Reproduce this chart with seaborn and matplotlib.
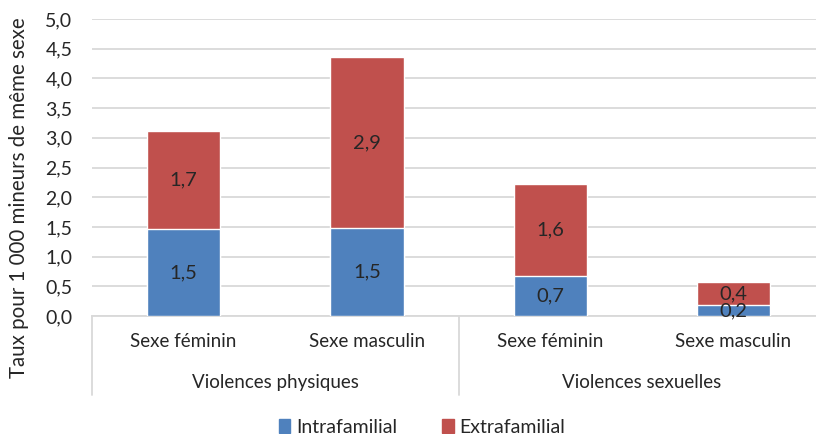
import numpy as np
import pandas as pd
import seaborn as sns
import matplotlib.pyplot as plt
from matplotlib.patches import Patch
import matplotlib.transforms as mtransforms

# data
groups = ['Violences physiques', 'Violences sexuelles']
sexes = ['Sexe féminin', 'Sexe masculin', 'Sexe féminin', 'Sexe masculin']
intrafamilial = [1.46, 1.48, 0.67, 0.185]
extrafamilial = [1.66, 2.88, 1.55, 0.39]
y_ticks = [0.0, 0.5, 1.0, 1.5, 2.0, 2.5, 3.0, 3.5, 4.0, 4.5, 5.0]

blue = '#4F81BD'
red = '#C0504D'
grid_col = '#D9D9D9'
fs = 13.5

sns.set_style('white')
plt.rcParams['font.family'] = ['Lato', 'DejaVu Sans']
plt.rcParams['font.size'] = fs

df = pd.DataFrame({
    'pos': [f'{i}' for i in range(len(sexes))],
    'intra': intrafamilial,
    'extra': extrafamilial,
})
df['total'] = df['intra'] + df['extra']

fig = plt.figure(figsize=(8.16, 4.34), dpi=100)
ax = fig.add_axes([0.1127, 0.272, 0.8873, 0.684])

# stacked bars: totals first (red), then the intrafamilial part on top (blue)
sns.barplot(data=df, x='pos', y='total', color=red, width=0.4, saturation=1,
            ax=ax, zorder=2)
sns.barplot(data=df, x='pos', y='intra', color=blue, width=0.4, saturation=1,
            ax=ax, zorder=3)

for i, row in df.iterrows():
    ax.text(i, row['intra'] / 2, f"{row['intra']:.1f}".replace('.', ','),
            ha='center', va='center', fontsize=14.5, zorder=5)
    ax.text(i, row['intra'] + row['extra'] / 2, f"{row['extra']:.1f}".replace('.', ','),
            ha='center', va='center', fontsize=14.5, zorder=5)

ax.set_xlim(-0.5, 3.45)
ax.set_ylim(0, 5.0)
ax.set_yticks(y_ticks)
ax.set_yticklabels([f'{t:.1f}'.replace('.', ',') for t in y_ticks])
ax.yaxis.grid(True, color=grid_col, linewidth=1.3, zorder=0)
ax.set_axisbelow(True)
for s in ['top', 'right', 'left']:
    ax.spines[s].set_visible(False)
ax.spines['bottom'].set_color(grid_col)
ax.spines['bottom'].set_linewidth(1.3)
ax.tick_params(axis='y', length=0, pad=14, labelsize=14)
ax.tick_params(axis='x', length=0, pad=12, labelsize=fs)
ax.set_xticks(range(len(sexes)))
ax.set_xticklabels(sexes)
ax.set_xlabel('')
ax.set_ylabel('Taux pour 1 000 mineurs de même sexe', fontsize=14.8)
ax.yaxis.set_label_coords(-0.087, 0.40)

# category separators and group labels below the axis
trans = mtransforms.blended_transform_factory(ax.transData, ax.transAxes)
for xs in [-0.5, 1.5, 3.5]:
    ax.plot([xs, xs], [0, -0.265], color=grid_col, linewidth=1.3,
            transform=trans, clip_on=False)
for gi, g in enumerate(groups):
    ax.text(gi * 2 + 0.5, -0.225, g, transform=trans, ha='center', va='center',
            fontsize=fs)

handles = [Patch(color=blue, label='Intrafamilial'),
           Patch(color=red, label='Extrafamilial')]
fig.legend(handles=handles, loc='center', bbox_to_anchor=(0.517, 0.016),
           ncol=2, frameon=False, fontsize=14, handlelength=0.6,
           handleheight=0.7, handletextpad=0.3, columnspacing=2.3)

fig.savefig('out.png', dpi=100)
